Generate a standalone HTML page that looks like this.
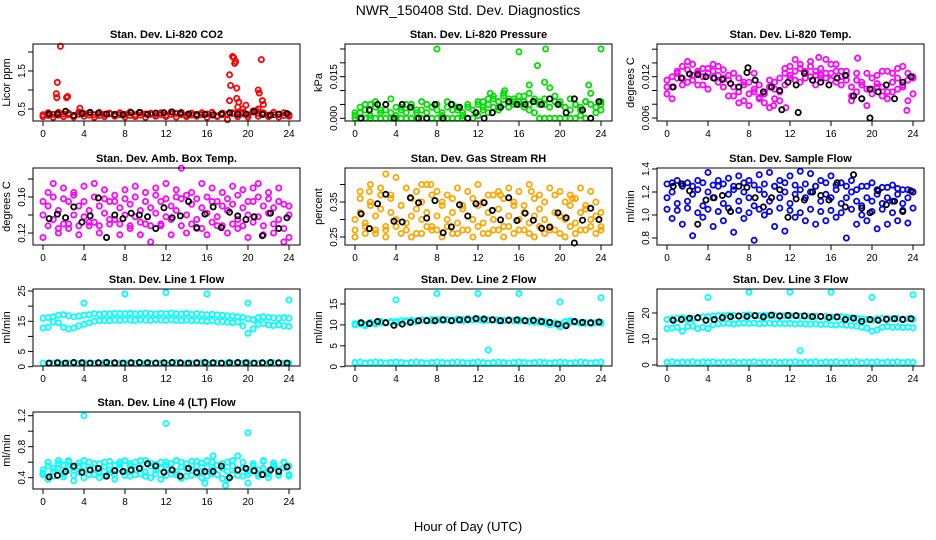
<!DOCTYPE html>
<html><head><meta charset="utf-8">
<style>
html,body{margin:0;padding:0;background:#fff;}
svg{display:block;font-family:"Liberation Sans",Arial,sans-serif;}
</style></head>
<body>
<svg id="chart" width="936" height="540" viewBox="0 0 936 540" xmlns="http://www.w3.org/2000/svg">
<text x="468" y="15" text-anchor="middle" font-size="14">NWR_150408  Std. Dev. Diagnostics</text>
<text x="468" y="531" text-anchor="middle" font-size="13">Hour of Day (UTC)</text>
</svg>
<script>
const HOURS=[0,0.5,1,1.5,2,2.5,3,3.5,4,4.5,5,5.5,6,6.5,7,7.5,8,8.5,9,9.5,10,10.5,11,11.5,12,12.5,13,13.5,14,14.5,15,15.5,16,16.5,17,17.5,18,18.5,19,19.5,20,20.5,21,21.5,22,22.5,23,23.5,24];
const BLACK_HOURS=[0.6,1.4,2.2,3.0,3.8,4.6,5.4,6.2,7.0,7.8,8.6,9.4,10.2,11.0,11.8,12.6,13.4,14.2,15.0,15.8,16.6,17.4,18.2,19.0,19.8,20.6,21.4,22.2,23.0,23.8];
const X_TICKS=[0,4,8,12,16,20,24];

const co2A=[.35,.33,.36,.34,.37,.35,.32,.36,.38,.34,.35,.33,.36,.37,.34,.35,.36,.33,.35,.34,.37,.36,.33,.35,.34,.36,.38,.35,.33,.34,.36,.35,.37,.34,.32,.35,.36,.38,.40,.37,.35,.42,.38,.36,.34,.35,.37,.33,.35];
const co2B=[.30,.40,.28,.41,.30,.39,.29,.42,.31,.40,.28,.41,.30,.39,.31,.40,.29,.42,.30,.41,.28,.39,.31,.40,.30,.42,.29,.41,.30,.39,.31,.40,.28,.41,.30,.39,.22,.40,.30,.41,.29,.45,.31,.40,.30,.41,.29,.40,.31];
const co2Out=[[1.7,2.15],[1.4,1.2],[1.3,0.9],[1.35,0.8],[2.3,0.8],[2.4,0.83],[3.6,0.52],[18.2,1.4],[18.3,1.12],[18.5,1.88],[18.6,1.85],[18.7,1.7],[18.8,1.75],[18.9,1.05],[18.2,0.72],[18.9,0.78],[19.1,0.68],[19.0,0.55],[19.5,0.5],[19.8,0.6],[21.0,1.0],[21.1,0.92],[21.3,1.8],[21.4,0.72],[21.5,0.62],[21.0,0.5],[20.8,0.45]];
const co2Black=[.37,.37,.44,.33,.38,.41,.39,.37,.36,.35,.40,.41,.36,.39,.40,.42,.39,.37,.35,.36,.35,.37,.40,.36,.37,.43,.36,.34,.36,.38];

const presA=[0,0,0,0,0,0,0,0,0,0,0,0,0,0,0,0,0,0,0,0,0,0,0,0,.001,.003,.002,.004,.003,.005,.004,.006,.005,.004,.003,.002,0,0,0,0,0,0,0,0,.001,0,0,.002,.003];
const presB=[.002,.004,.003,.005,.004,.003,.005,.002,.004,.003,.005,.004,.002,.003,.005,.004,.003,.002,.004,.005,.003,.002,.004,.003,.005,.006,.005,.007,.006,.008,.006,.007,.006,.008,.005,.007,.006,.005,.004,.006,.005,.004,.003,.005,.004,.006,.005,.004,.006];
const presC=[.001,.002,.005,.001,.006,.002,.003,.007,.001,.004,.002,.005,.003,.006,.002,.004,.005,.001,.006,.003,.004,.001,.005,.003,.006,.004,.007,.008,.004,.009,.007,.005,.008,.006,.009,.006,.005,.007,.011,.008,.006,.004,.007,.005,.003,.006,.009,.004,.005];
const presOut=[[8,0.025],[16,0.024],[17.8,0.019],[18.6,0.025],[24,0.025],[17,0.012],[18.5,0.013],[22.8,0.012],[13.2,0.009],[14.6,0.010]];
const presBlack=[0,.003,.005,.005,0,.005,.004,0,0,.005,0,.005,.004,0,.002,0,.002,.004,.006,.005,.005,.006,.005,.007,.005,.002,.007,.003,0,.006];

const tempA=[.0115,.012,.0125,.0118,.013,.0122,.0128,.012,.0125,.0118,.0122,.013,.0115,.0105,.0098,.0108,.0095,.0102,.009,.0098,.0105,.0112,.0118,.0125,.0122,.0128,.0132,.0125,.012,.0128,.0122,.0118,.0125,.0128,.012,.0115,.0105,.0098,.0108,.0102,.0095,.011,.0105,.0098,.0112,.0118,.0108,.0115,.012];
const tempB=[.0095,.0105,.0128,.0135,.0112,.0138,.0125,.0108,.0132,.0128,.0135,.0105,.0122,.0092,.0118,.0085,.0112,.0098,.0108,.0082,.0115,.0088,.0098,.0108,.0135,.0115,.0138,.0118,.0135,.0108,.0132,.0125,.0138,.0112,.0128,.0122,.0092,.0115,.0088,.0125,.0102,.0122,.0092,.0128,.0098,.0132,.0105,.0125,.0095];
const tempC=[.0105,.0088,.0118,.0108,.0142,.0115,.0108,.0132,.0102,.0138,.0112,.0118,.0092,.0125,.0082,.0112,.0078,.0125,.0088,.0095,.0075,.0102,.0085,.0132,.0118,.0145,.0112,.0128,.0142,.0122,.0118,.0145,.0115,.0138,.0108,.0128,.0085,.0125,.0112,.0078,.0118,.0105,.0128,.0088,.0125,.0102,.0135,.0085,.0118];
const tempOut=[[14.8,.0148],[18.6,.0147],[23.4,.0071],[10.4,.0078],[11.6,.0075]];
const tempBlack=[.0105,.0118,.0124,.0123,.0120,.0118,.0116,.0110,.0105,.0126,.0115,.0098,.0105,.0100,.0112,.0108,.0125,.0115,.0112,.0108,.0118,.0122,.0092,.0088,.0102,.0098,.0108,.0088,.0112,.0120];
const tempBlackOut=[[19.8,.006],[11.2,.0072],[12.8,.0068],[7.9,.0133]];

const ambA=[.14,.15,.135,.145,.13,.155,.14,.15,.138,.145,.132,.15,.142,.155,.135,.148,.14,.152,.138,.145,.13,.148,.142,.155,.138,.15,.145,.158,.14,.152,.135,.148,.142,.155,.138,.15,.145,.152,.135,.148,.14,.155,.138,.15,.142,.148,.135,.152,.14];
const ambB=[.155,.128,.16,.125,.158,.13,.162,.128,.155,.132,.16,.128,.158,.135,.162,.13,.158,.128,.16,.132,.155,.128,.162,.13,.158,.135,.16,.128,.162,.13,.158,.125,.16,.132,.155,.128,.158,.13,.162,.128,.155,.132,.16,.128,.158,.13,.155,.125,.15];
const ambC=[.115,.165,.175,.12,.17,.125,.165,.118,.172,.128,.175,.12,.168,.13,.155,.118,.168,.125,.172,.118,.165,.11,.17,.128,.175,.118,.168,.192,.12,.165,.125,.175,.118,.17,.128,.165,.12,.172,.125,.168,.115,.17,.175,.118,.165,.12,.17,.11,.115];
const ambBlack=[.136,.141,.137,.149,.132,.139,.159,.115,.140,.136,.142,.140,.138,.125,.148,.137,.139,.155,.126,.141,.149,.126,.143,.139,.135,.138,.117,.142,.125,.137];

const rhA=[.30,.32,.29,.34,.31,.33,.28,.32,.30,.34,.29,.31,.33,.30,.32,.28,.31,.34,.30,.32,.29,.33,.31,.30,.34,.29,.32,.30,.33,.28,.31,.34,.30,.32,.29,.31,.33,.30,.28,.32,.31,.30,.34,.29,.32,.33,.30,.31,.32];
const rhB=[.27,.36,.28,.35,.26,.37,.27,.36,.28,.34,.27,.36,.26,.35,.28,.37,.27,.35,.28,.36,.26,.34,.27,.36,.28,.35,.26,.37,.27,.36,.28,.35,.27,.34,.26,.36,.28,.35,.27,.37,.26,.35,.28,.36,.27,.34,.28,.35,.27];
const rhC=[.25,.38,.26,.40,.27,.39,.25,.37,.42,.26,.39,.25,.38,.26,.40,.27,.38,.25,.37,.26,.39,.27,.38,.25,.40,.26,.37,.27,.38,.25,.39,.26,.38,.27,.40,.25,.37,.26,.39,.27,.38,.25,.37,.26,.39,.27,.38,.26,.28];
const rhOut=[[3.0,.43],[1.4,.38],[6.5,.40],[7.4,.40],[14.2,.37],[17.2,.38],[21.2,.36]];
const rhBlack=[.316,.274,.345,.372,.295,.293,.362,.348,.304,.354,.262,.279,.342,.310,.345,.348,.326,.299,.362,.297,.318,.298,.275,.278,.319,.305,.233,.298,.332,.300];

const flowA=[1.15,1.2,1.1,1.25,1.12,1.18,1.22,1.08,1.2,1.15,1.25,1.1,1.18,1.22,1.12,1.2,1.15,1.08,1.22,1.18,1.12,1.25,1.15,1.2,1.1,1.18,1.22,1.15,1.2,1.25,1.12,1.18,1.15,1.22,1.1,1.15,1.2,1.12,1.08,1.15,1.12,1.18,1.1,1.15,1.12,1.18,1.1,1.15,1.2];
const flowB=[1.05,1.28,1.04,1.27,1.06,1.25,1.02,1.28,1.05,1.26,1.03,1.27,1.06,1.25,1.04,1.28,1.02,1.26,1.05,1.27,1.03,1.25,1.06,1.28,1.04,1.26,1.02,1.27,1.05,1.25,1.03,1.28,1.04,1.26,1.02,1.25,1.05,1.22,1.0,1.25,1.03,1.22,1.05,1.24,1.02,1.23,1.04,1.22,1.06];
const flowC=[1.27,0.97,1.3,0.92,1.28,0.82,1.3,0.98,1.37,0.9,1.3,0.95,1.32,0.85,1.34,0.97,1.3,0.78,1.35,1.0,1.37,0.9,1.3,0.86,1.34,0.98,1.38,0.95,1.36,0.92,1.3,0.95,1.34,0.98,1.28,0.8,1.3,0.92,1.25,0.95,1.28,0.88,1.24,0.92,1.26,0.95,1.22,0.93,1.2];
const flowBlack=[1.25,1.27,1.21,0.92,1.13,1.15,1.17,1.03,1.25,1.24,1.15,1.07,1.15,1.22,0.98,1.14,1.13,1.20,1.17,1.13,1.28,1.07,1.35,1.06,1.02,1.21,1.09,1.12,1.03,1.21];

const l1A=[16,16.2,16.5,17,17.2,16.8,16.5,16.7,17,17.2,17.5,17.3,17.5,17.4,17.6,17.5,17.5,17.6,17.4,17.5,17.7,17.5,17.4,17.6,17.5,17.7,17.5,17.4,17.6,17.3,17.5,17.3,17.2,17.3,17.1,17,16.8,16.7,16.5,16.3,15.8,15.5,16.2,16.5,16.3,16.1,16,16.2,16];
const l1B=[12.8,13,14.8,14.5,13,12.5,12.8,13.5,14,14.5,15,15.2,15.3,15.2,15.4,15.3,15.5,15.4,15.3,15.5,15.4,15.3,15.5,15.4,15.3,15.5,15.3,15.2,15.4,15.2,15.3,15.1,15,15.2,14.8,14.9,14.7,14.5,14.8,13.5,11,12.5,14,14.2,13.8,13.6,13.8,13.5,13.3];
const l1C=[1.2,1.1,1.2,1.3,1.1,1.2,1.2,1.1,1.3,1.2,1.1,1.2,1.3,1.2,1.1,1.2,1.2,1.3,1.1,1.2,1.2,1.1,1.3,1.2,1.1,1.2,1.3,1.2,1.1,1.2,1.2,1.3,1.1,1.2,1.2,1.1,1.3,1.2,1.1,1.2,1.3,1.2,1.1,1.2,1.2,1.3,1.1,1.2,1.2];
const l1Out=[[4,21],[8,24],[12,24.5],[16,24],[20,21],[24,22]];
const l1Black=[1.2,1.3,1.2,1.4,1.3,1.2,1.3,1.4,1.3,1.2,1.3,1.4,1.3,1.2,1.3,1.4,1.3,1.2,1.3,1.4,1.3,1.2,1.3,1.4,1.3,1.2,1.3,1.4,1.3,1.2];

const l2A=[10.3,10.5,10.2,10.6,10.4,10.8,10.5,10.6,10.8,10.9,11,11.1,11,11.2,11.1,11.3,11.2,11.4,11.3,11.2,11.4,11.3,11.5,11.2,11.3,11.4,11.2,11.3,11.2,11.1,11.3,11,11.2,11.1,11,10.9,11,10.8,10.6,10.5,10.2,10,10.6,10.8,10.5,10.4,10.6,10.5,10.4];
const l2B=[1.0,1.1,0.9,1.0,1.1,1.0,0.9,1.0,1.1,1.0,0.9,1.0,1.1,1.0,0.9,1.0,1.1,1.0,0.9,1.0,1.1,1.0,0.9,1.0,1.1,1.0,0.9,1.0,1.1,1.0,0.9,1.0,1.1,1.0,0.9,1.0,1.1,1.0,0.9,1.0,1.1,1.0,0.9,1.0,1.1,1.0,0.9,1.0,1.1];
const l2C=[10.0,10.2,9.8,10.4,10.2,10.5,10.6,10.8,10.5,11,10.8,11,10.8,11.1,11.2,11,11.3,11.1,11.2,11,11.2,11,11.1,11.2,11.4,11,11.1,11.2,11,11,11.1,11,10.9,11,10.8,10.7,10.6,10.5,10,10.2,9.5,10.8,11,10.6,10.4,10.5,10.3,10.5,10.6];
const l2Out=[[4,16],[8,17.5],[12,17.5],[16,17.5],[20,15.5],[24,16.5],[13,4]];
const l2Black=[10.5,10.3,10.8,10.5,9.9,10.2,10.6,11,11,11,11.2,11,11.2,11.3,11.5,11.4,11.2,11,11.1,11.2,11,11.1,10.8,10.6,10.2,9.8,10.8,10.6,10.5,10.7];

const l3A=[17.5,17.8,18,18.2,17.5,17.8,18,18.5,18.6,18.8,19,19,19.2,19.1,19,19.2,19.3,19.1,19,19.2,19.1,19,19.1,19,18.9,19,18.8,18.9,18.7,18.8,18.6,18.7,18.5,18.4,18.6,18.3,18.2,18,17.8,17.5,17.2,17.8,18,17.9,17.8,17.9,17.7,17.8,17.6];
const l3B=[14,14.2,14.5,13,14.8,15,14,14.5,14,15.5,15.8,16,16,15.8,16,16.2,16,16.1,15.9,16,16.1,15.9,16,15.9,16,15.8,15.9,15.8,15.7,15.8,15.6,15.7,15.5,15.4,15.6,15.3,15.2,15,14.5,14.2,13,13.5,14.5,14.8,14.5,14.6,14.4,14.5,14.3];
const l3C=[1.0,1.2,0.9,1.1,1.0,1.2,0.9,1.1,1.0,1.2,0.9,1.1,1.0,1.2,0.9,1.1,1.0,1.2,0.9,1.1,1.0,1.2,0.9,1.1,1.0,1.2,0.9,1.1,1.0,1.2,0.9,1.1,1.0,1.2,0.9,1.1,1.0,1.2,0.9,1.1,1.0,1.2,0.9,1.1,1.0,1.2,0.9,1.1,1.0];
const l3Out=[[4,26],[8,28],[12,28],[16,28],[20,26],[24,27],[13,5.5]];
const l3Black=[17.2,17.5,18,18.2,17.2,17.5,18.2,18.6,18.8,18.7,19,18.5,19.2,18.8,19.1,19,18.9,18.6,18.7,18.3,18.5,17.5,18,16.8,17.5,17.2,17.6,17.8,17.5,17.8];

const l4A=[.5,.55,.48,.52,.56,.5,.53,.47,.55,.5,.52,.48,.54,.5,.56,.52,.48,.55,.5,.53,.47,.55,.5,.52,.56,.5,.48,.54,.52,.5,.55,.48,.53,.5,.56,.52,.48,.55,.5,.53,.48,.55,.5,.52,.47,.54,.5,.53,.55];
const l4B=[.44,.6,.42,.58,.45,.62,.43,.59,.4,.6,.44,.58,.42,.61,.45,.6,.43,.58,.44,.62,.42,.59,.45,.6,.43,.58,.44,.6,.42,.61,.45,.59,.42,.6,.44,.58,.38,.62,.43,.6,.44,.58,.42,.61,.45,.59,.43,.6,.44];
const l4C=[.46,.38,.52,.62,.41,.6,.36,.55,.62,.44,.58,.4,.6,.46,.38,.57,.62,.42,.6,.45,.62,.4,.57,.38,.6,.45,.62,.39,.58,.43,.61,.4,.62,.45,.56,.39,.6,.44,.68,.42,.33,.58,.45,.62,.4,.56,.44,.6,.42];
const l4Out=[[4,1.2],[12,1.1],[20,0.98],[17.8,0.3],[15.8,0.33],[16.6,0.68]];
const l4Black=[.41,.43,.48,.55,.47,.50,.52,.42,.49,.48,.50,.52,.58,.55,.47,.50,.42,.52,.47,.48,.48,.55,.40,.50,.52,.49,.44,.50,.48,.54];

const PANELS=[
 {name:'co2',col:0,row:0,title:'Stan. Dev. Li-820 CO2',ylab:'Licor ppm',color:'#ff0000',series:[co2A,co2B],out:co2Out,black:co2Black,blackOut:[],ref:[0.5,109,1.5,71],ticks:[0.5,1,1.5,2],labels:['0.5','','1.5','']},
 {name:'pressure',col:1,row:0,title:'Stan. Dev. Li-820 Pressure',ylab:'kPa',color:'#00e000',series:[presA,presB,presC],out:presOut,black:presBlack,blackOut:[],ref:[0,118.3,0.015,76.7],ticks:[0,0.005,0.01,0.015,0.02,0.025],labels:['0.000','','','0.015','','']},
 {name:'temp',col:2,row:0,title:'Stan. Dev. Li-820 Temp.',ylab:'degrees C',color:'#ff00ff',series:[tempA,tempB,tempC],out:tempOut,black:tempBlack,blackOut:tempBlackOut,ref:[0.006,118,0.012,76.7],ticks:[0.006,0.008,0.01,0.012,0.014,0.016],labels:['0.006','','','0.012','','']},
 {name:'amb-temp',col:0,row:1,title:'Stan. Dev. Amb. Box Temp.',ylab:'degrees C',color:'#ff00ff',series:[ambA,ambB,ambC],out:[],black:ambBlack,blackOut:[],ref:[0.12,233,0.16,197],ticks:[0.12,0.14,0.16,0.18],labels:['0.12','','0.16','']},
 {name:'rh',col:1,row:1,title:'Stan. Dev. Gas Stream RH',ylab:'percent',color:'#ffa500',series:[rhA,rhB,rhC],out:rhOut,black:rhBlack,blackOut:[],ref:[0.25,237,0.35,202],ticks:[0.25,0.3,0.35,0.4],labels:['0.25','','0.35','']},
 {name:'sample-flow',col:2,row:1,title:'Stan. Dev. Sample Flow',ylab:'ml/min',color:'#0000ff',series:[flowA,flowB,flowC],out:[],black:flowBlack,blackOut:[],ref:[0.8,238,1.4,169],ticks:[0.8,1,1.2,1.4],labels:['0.8','1.0','1.2','1.4']},
 {name:'line1-flow',col:0,row:2,title:'Stan. Dev. Line 1 Flow',ylab:'ml/min',color:'#00ffff',series:[l1A,l1B,l1C],out:l1Out,black:l1Black,blackOut:[],ref:[0,366.7,25,291],ticks:[0,5,10,15,20,25],labels:['0','5','','15','','25']},
 {name:'line2-flow',col:1,row:2,title:'Stan. Dev. Line 2 Flow',ylab:'ml/min',color:'#00ffff',series:[l2A,l2B,l2C],out:l2Out,black:l2Black,blackOut:[],ref:[0,366.7,15,304],ticks:[0,5,10,15],labels:['0','5','10','15']},
 {name:'line3-flow',col:2,row:2,title:'Stan. Dev. Line 3 Flow',ylab:'ml/min',color:'#00ffff',series:[l3A,l3B,l3C],out:l3Out,black:l3Black,blackOut:[],ref:[0,365,20,313],ticks:[0,10,20],labels:['0','10','20']},
 {name:'line4-flow',col:0,row:3,title:'Stan. Dev. Line 4 (LT) Flow',ylab:'ml/min',color:'#00ffff',series:[l4A,l4B,l4C],out:l4Out,black:l4Black,blackOut:[],ref:[0.4,477.7,1.2,415.7],ticks:[0.4,0.6,0.8,1.0,1.2],labels:['0.4','','0.8','','1.2']}
];
const COL_X0=[43,355,667], ROW_TOP=[44,168,289,412];
const NS='http://www.w3.org/2000/svg';
const svg=document.getElementById('chart');
function mk(tag,attrs,parent){const e=document.createElementNS(NS,tag);for(const k in attrs)e.setAttribute(k,attrs[k]);parent.appendChild(e);return e;}

PANELS.forEach(p=>{
  const x0=COL_X0[p.col], top=ROW_TOP[p.row], bot=top+77, left=x0-10, right=x0+257;
  const xs=h=>x0+h*246/24;
  const ys=v=>p.ref[1]+(v-p.ref[0])*(p.ref[3]-p.ref[1])/(p.ref[2]-p.ref[0]);
  const g=mk('g',{},svg);
  
  
  const t=mk('text',{x:(left+right)/2,y:top-6,'text-anchor':'middle','font-size':11,'font-weight':'bold'},g);
  t.textContent=p.title;
  
  
  const yl=mk('text',{x:0,y:0,'text-anchor':'middle','font-size':11,transform:`translate(${left-23},${(top+bot)/2}) rotate(-90)`},g);
  yl.textContent=p.ylab;
  
  
  const xa=mk('g',{},g);
  
  
  X_TICKS.forEach(h=>{
    mk('line',{x1:xs(h),x2:xs(h),y1:bot,y2:bot+5,stroke:'#000','stroke-width':1},xa);
    const tl=mk('text',{x:xs(h),y:bot+16,'text-anchor':'middle','font-size':10},xa);
    tl.textContent=String(h);
    
    
  });
  const ya=mk('g',{},g);
  
  
  p.ticks.forEach((v,i)=>{
    const y=ys(v);
    mk('line',{x1:left-5,x2:left,y1:y,y2:y,stroke:'#000','stroke-width':1},ya);
    if(p.labels[i]){
      const tl=mk('text',{x:0,y:0,'text-anchor':'middle','font-size':10,transform:`translate(${left-8},${y}) rotate(-90)`},ya);
      tl.textContent=p.labels[i];
      
      
    }
  });
  const pts=mk('g',{fill:'none',stroke:p.color,'stroke-width':1.8},g);
  
  
  p.series.forEach(arr=>arr.forEach((v,i)=>{
    const c=mk('circle',{cx:xs(HOURS[i]),cy:ys(v),r:2.6},pts);
    
    
  }));
  p.out.forEach(d=>{
    const c=mk('circle',{cx:xs(d[0]),cy:ys(d[1]),r:2.6},pts);
    
    
  });
  const bp=mk('g',{fill:'none',stroke:'#000','stroke-width':1.8},g);
  
  
  p.black.forEach((v,i)=>{
    const c=mk('circle',{cx:xs(BLACK_HOURS[i]),cy:ys(v),r:2.6},bp);
    
    
  });
  p.blackOut.forEach(d=>{
    const c=mk('circle',{cx:xs(d[0]),cy:ys(d[1]),r:2.6},bp);
    
    
  });
  const box=mk('rect',{x:left,y:top,width:right-left,height:bot-top,fill:'none',stroke:'#000','stroke-width':1},g);
  
  
});
</script>
</body></html>
